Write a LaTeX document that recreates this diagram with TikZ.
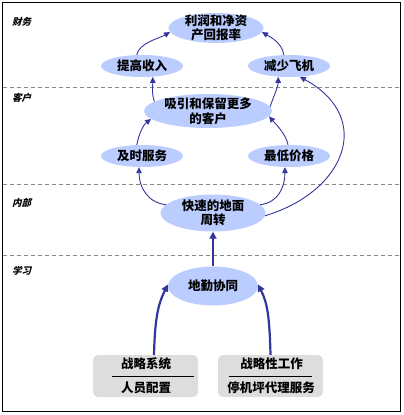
\documentclass[tikz,border=0pt]{standalone}
\usepackage{fontspec}
\setmainfont{Noto Sans CJK SC}
\newfontfamily\cjkslant{Noto Sans CJK SC}[FakeSlant=0.25]
\usetikzlibrary{shapes.geometric,arrows.meta}

\definecolor{ovalblue}{HTML}{BBCCFF}
\definecolor{arrowblue}{HTML}{35359E}
\definecolor{boxgray}{HTML}{DDDDDD}
\definecolor{dashgray}{HTML}{888888}

\tikzset{
  oval/.style={ellipse, fill=ovalblue, inner sep=0pt},
  ovaltext/.style={font=\bfseries\fontsize{12.5}{14.5}\selectfont, align=center, inner sep=0pt},
  graybox/.style={rectangle, rounded corners=5pt, fill=boxgray, inner sep=0pt,
                  minimum width=105pt, minimum height=42pt},
  boxtext/.style={font=\bfseries\fontsize{12.5}{14.5}\selectfont, inner sep=0pt},
  lane/.style={font=\cjkslant\bfseries\fontsize{9.5}{11}\selectfont, anchor=west, inner sep=0pt},
  lanesep/.style={dashgray, dash pattern=on 4pt off 3pt, line width=0.8pt},
  thinarrow/.style={arrowblue, line width=0.9pt, -{Triangle[width=5.5pt,length=6pt]}},
  thickarrow/.style={arrowblue, line width=2.2pt, -{Triangle[width=7pt,length=7pt]}}
}

\begin{document}
\begin{tikzpicture}[x=1pt, y=-1pt]
\useasboundingbox (0,0) rectangle (404,415);
\draw[line width=1pt] (2.5,2.5) rectangle (400.5,411.5);

% lanes
\foreach \y in {87, 184, 255}
  \draw[lanesep] (3,\y) -- (400,\y);
\node[lane] (finance) at (12,22) {财务};
\node[lane] (customer) at (12,98) {客户};
\node[lane] (internal) at (12,203) {内部};
\node[lane] (learning) at (12,271) {学习};

% objectives
\node[oval, minimum width=95pt, minimum height=30pt,
      label={[ovaltext]center:利润和净资\\产回报率}] (roe) at (216,28) {};
\node[oval, minimum width=82pt, minimum height=22pt,
      label={[ovaltext]center:提高收入}] (income) at (142,66) {};
\node[oval, minimum width=82pt, minimum height=22pt,
      label={[ovaltext]center:减少飞机}] (planes) at (289,66) {};
\node[oval, minimum width=128pt, minimum height=34pt,
      label={[ovaltext]center:吸引和保留更多\\的客户}] (attract) at (208,111) {};
\node[oval, minimum width=82pt, minimum height=22pt,
      label={[ovaltext]center:及时服务}] (ontime) at (142,156) {};
\node[oval, minimum width=82pt, minimum height=22pt,
      label={[ovaltext]center:最低价格}] (lowprice) at (289,156) {};
\node[oval, minimum width=105pt, minimum height=37pt,
      label={[ovaltext]center:快速的地面\\周转}] (turn) at (213,213) {};
\node[oval, minimum width=90pt, minimum height=39pt,
      label={[ovaltext]center:地勤协同}] (crew) at (213,286) {};

% learning boxes
\node[graybox] (system) at (145.5,376) {};
\node[boxtext] (systop) at (146,364) {战略系统};
\node[boxtext] (sysbot) at (146,388) {人员配置};
\draw[line width=0.8pt] ([xshift=19pt]system.west) -- ([xshift=-4pt]system.east);
\node[graybox] (work) at (270.5,376) {};
\node[boxtext] (worktop) at (271.5,364) {战略性工作};
\node[boxtext] (workbot) at (271,388) {停机坪代理服务};
\draw[line width=0.8pt] ([xshift=11pt]work.west) -- ([xshift=-11pt]work.east);

% links
\draw[thinarrow] (income.115) .. controls +(2,-12) and +(-10,6) .. (roe.185);
\draw[thinarrow] (planes.115) .. controls +(-2,-12) and +(10,6) .. (roe.-5);
\draw[thinarrow] (attract.170) .. controls +(-3,-9) and +(0,10) .. (income.-45);
\draw[thinarrow] (attract.4) .. controls +(3,-9) and +(0,10) .. (planes.-135);
\draw[thinarrow] (ontime.115) .. controls +(2,-11) and +(-8,6) .. (attract.-172);
\draw[thinarrow] (lowprice.95) .. controls +(-2,-11) and +(6,7) .. (attract.-5);
\draw[thinarrow] (turn.170) .. controls +(-18,-2) and +(0,20) .. (ontime.-105);
\draw[thinarrow] (turn.10) .. controls +(18,-2) and +(0,20) .. (lowprice.-110);
\draw[thinarrow] (turn.-3) .. controls +(80,-24) and +(75,41) .. (planes.-45);

\draw[thickarrow] (crew.north) -- (turn.south);
\draw[thickarrow] ([xshift=8.5pt]system.north) .. controls +(1,-40) and +(-9,18) .. (crew.178);
\draw[thickarrow] (work.north) .. controls +(-1,-40) and +(9,18) .. (crew.2);
\end{tikzpicture}
\end{document}
